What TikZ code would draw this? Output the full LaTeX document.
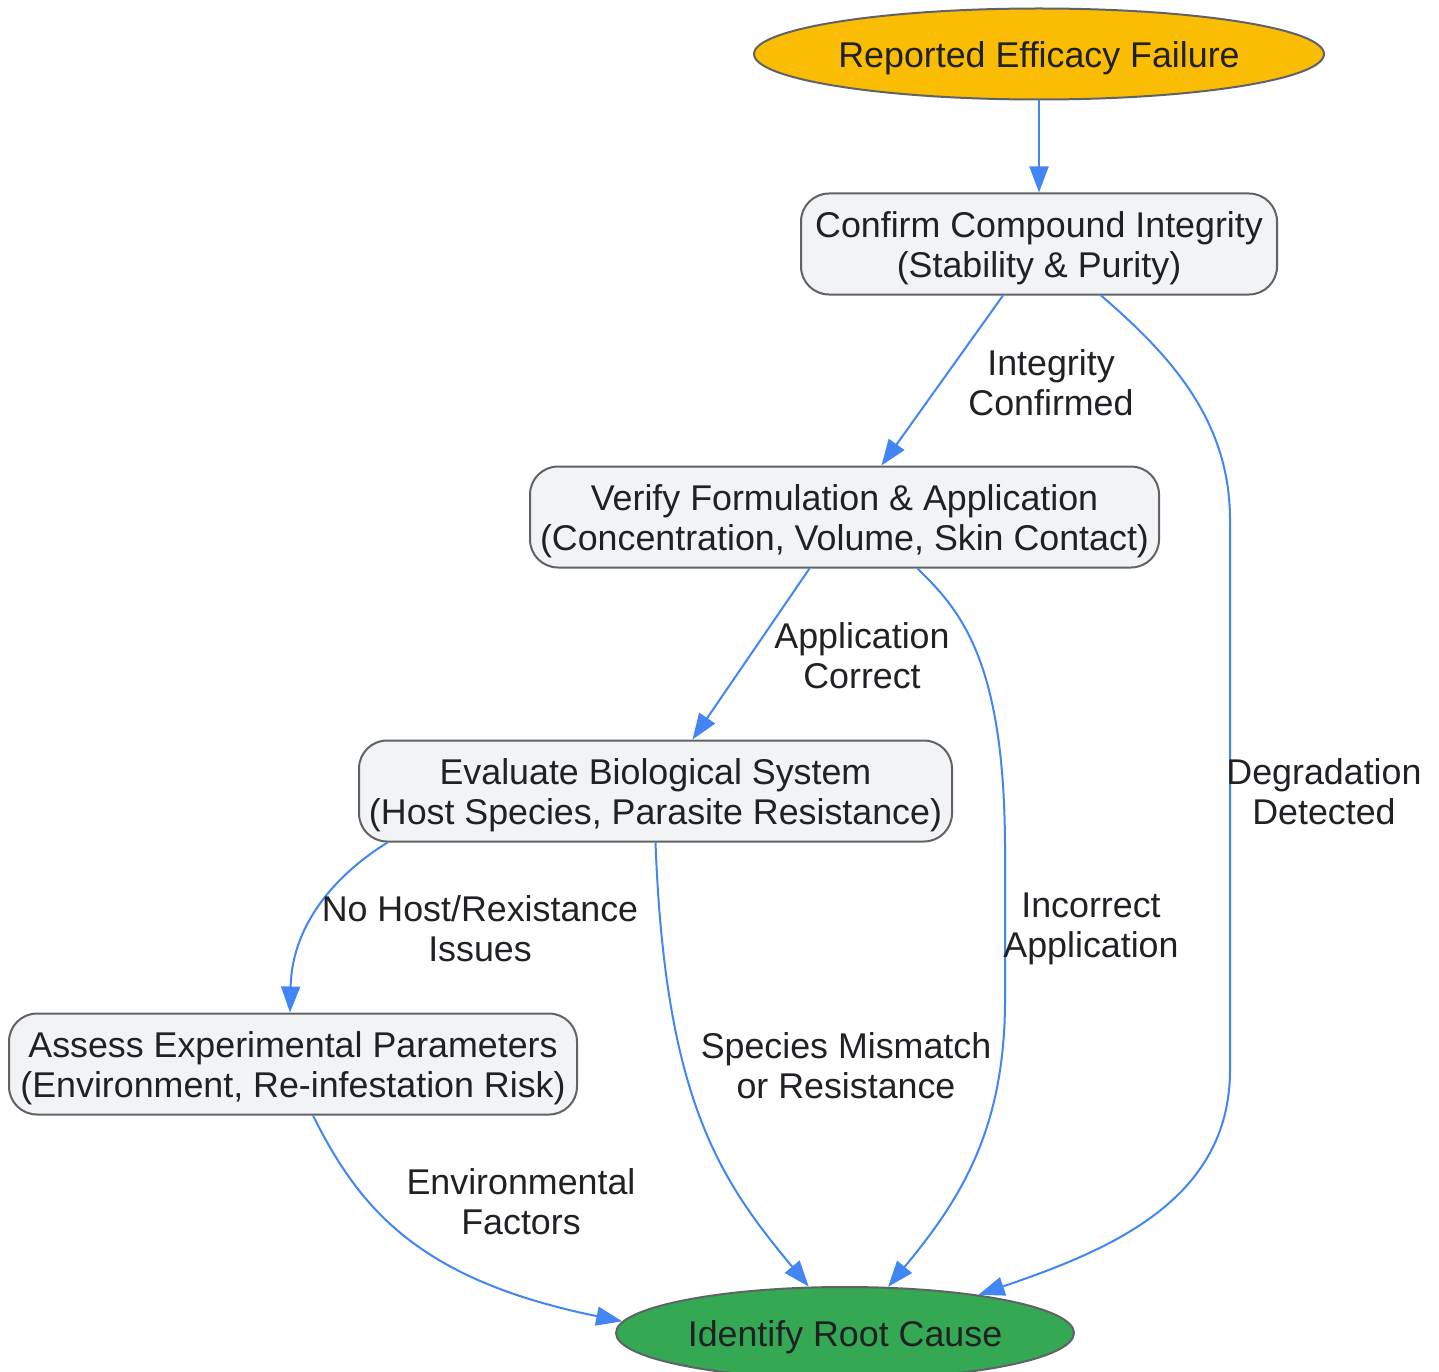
\documentclass[tikz,border=0pt]{standalone}
\usepackage{fontspec}
\setmainfont{Liberation Sans}
\usetikzlibrary{arrows.meta,shapes.geometric}
\definecolor{edgeblue}{HTML}{4285F4}
\definecolor{nodefill}{HTML}{F1F3F4}
\definecolor{nodeline}{HTML}{5F6368}
\definecolor{txt}{HTML}{202124}
\definecolor{startyellow}{HTML}{FBBC04}
\definecolor{endgreen}{HTML}{34A853}
\newcommand{\mytopstrut}{\rule{0pt}{34pt}}
\tikzset{
  base/.style={draw=nodeline, line width=2pt, text=txt, align=center,
    font=\fontsize{35.8}{40}\selectfont},
  procbox/.style={base, rectangle, rounded corners=28pt, fill=nodefill, inner sep=0pt},
  oval/.style={base, ellipse, inner sep=0pt},
  lbl/.style={text=txt, align=center, font=\fontsize{35.8}{40}\selectfont, inner sep=0pt},
  conn/.style={draw=edgeblue, line width=2pt,
    -{Triangle[length=26pt,width=19pt]}},
}
\begin{document}
\begin{tikzpicture}[x=1pt,y=-1pt]
\useasboundingbox (0,0) rectangle (1439,1372);
% nodes
\node[oval, fill=startyellow, minimum width=570pt, minimum height=91pt] (A) at (1039,54) {\mytopstrut Reported Efficacy Failure};
\node[procbox, minimum width=476pt, minimum height=101pt] (B) at (1039,244) {\mytopstrut Confirm Compound Integrity\\(Stability \& Purity)};
\node[procbox, minimum width=629pt, minimum height=101pt] (C) at (844.5,517) {\mytopstrut Verify Formulation \& Application\\(Concentration, Volume, Skin Contact)};
\node[procbox, minimum width=593pt, minimum height=101pt] (D) at (655.5,791) {\mytopstrut Evaluate Biological System\\(Host Species, Parasite Resistance)};
\node[procbox, minimum width=568pt, minimum height=101pt] (E) at (293,1064) {\mytopstrut Assess Experimental Parameters\\(Environment, Re-infestation Risk)};
\node[oval, fill=endgreen, minimum width=458pt, minimum height=92pt] (F) at (845,1333) {\mytopstrut Identify Root Cause};
% connectors
\draw[conn] (A) -- (B);
\draw[conn] ([xshift=-36pt]B.south) -- ([xshift=37pt]C.north);
\draw[conn] ([xshift=62pt]B.south) .. controls (1170,355) and (1230,420) .. (1230,520)
   -- (1230,1070) .. controls (1230,1200) and (1110,1250) .. (F.16);
\draw[conn] ([xshift=-35pt]C.south) -- ([xshift=37pt]D.north);
\draw[conn] ([xshift=73pt]C.south) .. controls (960,610) and (1005,660) .. (1005,850)
   -- (1005,1000) .. controls (1005,1130) and (960,1200) .. (F.47);
\draw[conn] ([xshift=-268pt]D.south) .. controls (335,875) and (292,925) .. ([xshift=-3pt]E.north);
\draw[conn] (D.south) .. controls (665,1100) and (720,1180) .. (F.128);
\draw[conn] ([xshift=20pt]E.south) .. controls (360,1210) and (420,1280) .. (F.177);
% labels
\node[lbl] (l1) at (1051,383) {Integrity\\Confirmed};
\node[lbl] (l2) at (862,656) {Application\\Correct};
\node[lbl] (l3) at (1324,792) {Degradation\\Detected};
\node[lbl] (l4) at (1091,929) {Incorrect\\Application};
\node[lbl] (l5) at (480,929) {No Host/Rexistance\\Issues};
\node[lbl] (l6) at (846,1066) {Species Mismatch\\or Resistance};
\node[lbl] (l7) at (521,1202) {Environmental\\Factors};
\end{tikzpicture}
\end{document}
